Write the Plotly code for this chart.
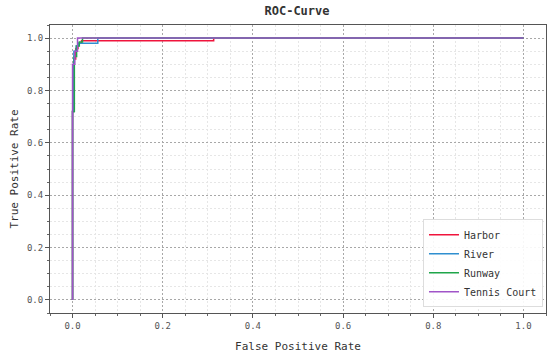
import plotly.graph_objects as go

# ROC curves
harbor_fpr = [0.0, 0.0, 0.003, 0.003, 0.007, 0.007, 0.012, 0.012, 0.02, 0.02, 0.313, 0.313, 1.0]
harbor_tpr = [0.0, 0.72, 0.72, 0.92, 0.92, 0.96, 0.96, 0.98, 0.98, 0.99, 0.99, 1.0, 1.0]

river_fpr = [0.0, 0.0, 0.003, 0.003, 0.008, 0.008, 0.013, 0.013, 0.056, 0.056, 1.0]
river_tpr = [0.0, 0.72, 0.72, 0.95, 0.95, 0.97, 0.97, 0.98, 0.98, 1.0, 1.0]

runway_fpr = [0.0, 0.0, 0.004, 0.004, 0.009, 0.009, 0.015, 0.015, 0.022, 0.022, 1.0]
runway_tpr = [0.0, 0.72, 0.72, 0.93, 0.93, 0.97, 0.97, 0.985, 0.985, 1.0, 1.0]

tennis_fpr = [0.0, 0.0, 0.005, 0.005, 0.011, 0.011, 1.0]
tennis_tpr = [0.0, 0.90, 0.90, 0.95, 0.95, 1.0, 1.0]

names = ["Harbor", "River", "Runway", "Tennis Court"]
colors = ["#f0143c", "#2f8fd0", "#1fa64a", "#a054c8"]
series = [(harbor_fpr, harbor_tpr), (river_fpr, river_tpr),
          (runway_fpr, runway_tpr), (tennis_fpr, tennis_tpr)]

FONT = "DejaVu Sans Mono"

fig = go.Figure()
for name, color, (x, y) in zip(names, colors, series):
    fig.add_trace(go.Scatter(x=x, y=y, mode="lines", name=name,
                             line=dict(color=color, width=1.5)))

axis_common = dict(
    range=[-0.05, 1.05], dtick=0.2, tickformat=".1f", automargin=False,
    showgrid=True, gridcolor="#a8a8a8", griddash="2px,2px", gridwidth=1,
    minor=dict(dtick=0.05, showgrid=True, gridcolor="#e6e6e6", gridwidth=1,
               ticks="outside", ticklen=2, tickcolor="#666"),
    zeroline=False, showline=True, linecolor="#555555", linewidth=1,
    mirror=True, ticks="outside", ticklen=4, tickcolor="#555555",
    tickfont=dict(family=FONT, size=9, color="#555555"),
)

fig.update_layout(
    width=550, height=353,
    margin=dict(l=50, r=4, t=25, b=40, autoexpand=False),
    paper_bgcolor="white", plot_bgcolor="white",
    title=dict(text="<b>ROC-Curve</b>", x=0.54, xanchor="center", y=0.982, yanchor="top",
               font=dict(family=FONT, size=12, color="#333333")),
    xaxis=dict(title=dict(text="False Positive Rate", standoff=12,
                          font=dict(family=FONT, size=11, color="#333333")), **axis_common),
    yaxis=dict(title=dict(text="True Positive Rate", standoff=6,
                          font=dict(family=FONT, size=11, color="#333333")), **axis_common),
    legend=dict(x=0.752, y=0.02, xanchor="left", yanchor="bottom",
                bgcolor="rgba(255,255,255,0.9)", bordercolor="#dddddd", borderwidth=1,
                font=dict(family=FONT, size=10, color="#333333"),
                tracegroupgap=0, itemwidth=30),
    showlegend=True,
)

fig.write_html("out.html", post_script="document.body.style.margin='0';",
               config={"displayModeBar": False})
